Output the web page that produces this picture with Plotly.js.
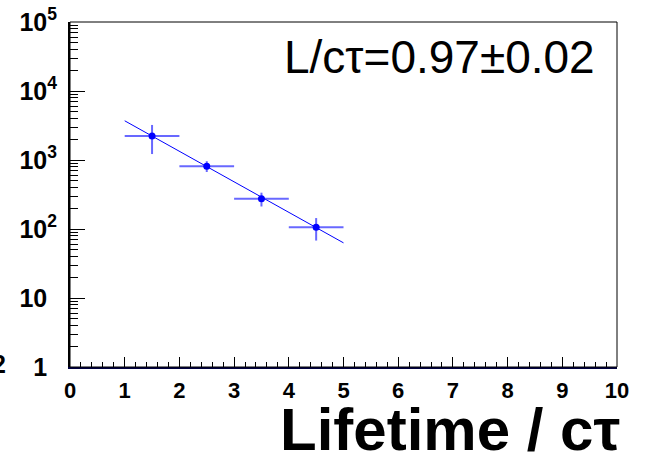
<!DOCTYPE html>
<html>
<head>
<meta charset="utf-8">
<script src="https://cdn.plot.ly/plotly-3.0.1.min.js"></script>
<style>html,body{margin:0;padding:0;background:#fff}#chart{width:653px;height:457px}</style>
</head>
<body>
<div id="chart"></div>
<script>
// Data
const binCentres = [1.5, 2.5, 3.5, 4.5];
const binHalfWidths = [0.5, 0.5, 0.5, 0.5];
const counts = [2220, 815, 274, 106];
const countErrors = [1000, 145, 62, 38];
const fitX = [1, 5];
const fitY = [3700, 63];
const yTickVals = [1, 10, 100, 1000, 10000, 100000];
const yTickText = ["1<sup>\u2007</sup>", "10<sup>\u2007</sup>", "10<sup>2</sup>", "10<sup>3</sup>", "10<sup>4</sup>", "10<sup>5</sup>"];
const xTickVals = [0, 1, 2, 3, 4, 5, 6, 7, 8, 9, 10];
const fitLabel = "L/c\u03c4=0.97\u00b10.02";
const xTitle = "Lifetime / c\u03c4";

const font = "Liberation Sans, Arial, Helvetica, sans-serif";

const traces = [
  {
    x: fitX, y: fitY, type: "scatter", mode: "lines",
    line: {color: "#0000ff", width: 1}, hoverinfo: "skip", showlegend: false
  },
  {
    x: binCentres, y: counts, type: "scatter", mode: "markers",
    marker: {color: "#0000ff", size: 7},
    error_x: {type: "data", array: binHalfWidths, symmetric: true, color: "rgba(40,40,255,0.7)", thickness: 2, width: 0},
    error_y: {type: "data", array: countErrors, symmetric: true, color: "rgba(40,40,255,0.7)", thickness: 2, width: 0},
    showlegend: false
  }
];

const layout = {
  width: 653, height: 457,
  margin: {l: 70, r: 36, t: 22, b: 90, pad: 0},
  paper_bgcolor: "#fff", plot_bgcolor: "#fff",
  font: {family: font, color: "#000"},
  showlegend: false,
  xaxis: {
    range: [0, 10], tickvals: xTickVals, ticktext: xTickVals.map(String),
    ticks: "inside", ticklen: 10, tickwidth: 1, tickcolor: "#000",
    minor: {ticks: "inside", ticklen: 5, dtick: 0.2, tickwidth: 1, tickcolor: "#000", showgrid: false},
    showgrid: false, zeroline: false,
    showline: true, linecolor: "#000040", linewidth: 2,
    tickfont: {family: font, size: 22, weight: "bold"},
    ticklabelstandoff: 3
  },
  yaxis: {
    type: "log", range: [0, 5], tickvals: yTickVals, ticktext: yTickText,
    ticks: "inside", ticklen: 15, tickwidth: 1, tickcolor: "#000",
    minor: {ticks: "inside", ticklen: 8, dtick: "D1", tickwidth: 1, tickcolor: "#000", showgrid: false},
    showgrid: false, zeroline: false,
    showline: true, linecolor: "#000", linewidth: 2,
    tickfont: {family: font, size: 25, weight: "bold"},
    ticklabelstandoff: 6
  },
  shapes: [
    {type: "rect", xref: "paper", yref: "paper", x0: 0, x1: 1, y0: 0, y1: 1, line: {color: "#000", width: 1}, layer: "above"}
  ],
  annotations: [
    {text: fitLabel, xref: "paper", yref: "paper", x: 0.676, y: 0.898, xanchor: "center", yanchor: "middle",
     showarrow: false, font: {family: font, size: 46, color: "#000"}},
    {text: xTitle, xref: "paper", yref: "paper", x: 1.01, y: -0.18, xanchor: "right", yanchor: "middle",
     showarrow: false, font: {family: font, size: 60, weight: "bold", color: "#000"}},
    {text: "2", xref: "paper", yref: "paper", x: -0.1133, y: 0.01, xanchor: "right", yanchor: "middle",
     showarrow: false, font: {family: font, size: 25, weight: "bold", color: "#000"}}
  ]
};

Plotly.newPlot("chart", traces, layout, {displayModeBar: false, staticPlot: true});
</script>
</body>
</html>
